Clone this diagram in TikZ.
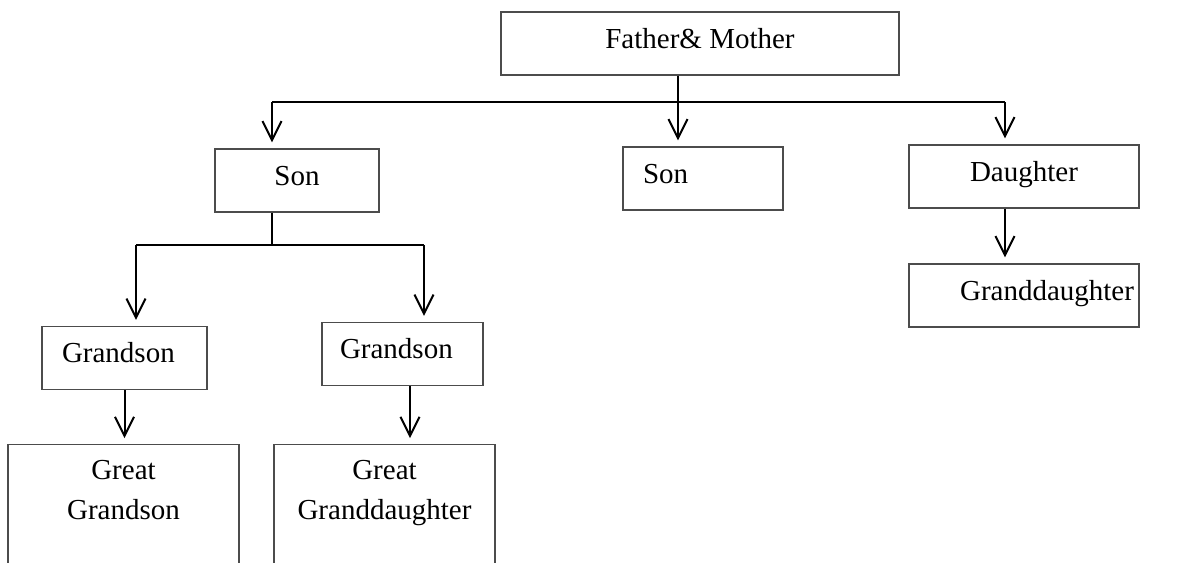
\documentclass[tikz,border=0pt]{standalone}
\usepackage{fontspec}
\setmainfont{Liberation Serif}
\usetikzlibrary{arrows.meta}
\newcommand{\kinfont}{\fontsize{14.5}{20}\selectfont}
\tikzset{
  kinbox/.style={draw=black!70,line width=0.7pt,minimum height=31.5pt,inner sep=0pt,
    align=center,font=\kinfont},
  member/.style={kinbox,text height=9pt,text depth=4.5pt},
  heir/.style={kinbox,anchor=north,inner ysep=8pt,text depth=60pt},
  descent/.style={-{Straight Barb[length=9.5pt,width=9.5pt]},line width=1pt,shorten >=3pt},
  branch/.style={line width=1pt}
}
\begin{document}
\begin{tikzpicture}[x=0.5pt,y=-0.5pt]
  \useasboundingbox (0,0) rectangle (1191,563);
  \node[member,minimum width=199pt] (fm) at (700,43.5) {Father\& Mother};
  \node[member,minimum width=82pt] (sonA) at (297,180.5) {Son};
  \node[member,text width=60pt,align=left,inner xsep=10pt] (sonB) at (703,178.5) {Son};
  \node[member,minimum width=115pt] (dau) at (1024,176.5) {Daughter};
  \node[member,text width=110pt,align=right,inner xsep=2.5pt] (gdau) at (1024,295.5) {Granddaughter};
  \node[member,text width=62.5pt,align=left,inner xsep=10pt] (gsA) at (124.5,358) {Grandson};
  \node[member,text width=62.5pt,align=left,inner xsep=9pt] (gsB) at (402.5,354) {Grandson};
  \node[heir,minimum width=115.5pt] (ggs) at (123.5,444) {Great\\Grandson};
  \node[heir,minimum width=110.5pt] (ggd) at (384.5,444) {Great\\Granddaughter};

  \coordinate (jct) at (678,102);
  \coordinate (barL) at (272,102);
  \coordinate (barR) at (1005,102);
  \coordinate (sjct) at (272,245);
  \coordinate (sbarL) at (136,245);
  \coordinate (sbarR) at (424,245);

  \draw[branch] (barL) -- (barR);
  \draw[descent] (fm.south -| jct) -- (jct |- sonB.north);
  \draw[descent] (barL) -- (barL |- sonA.north);
  \draw[descent] (barR) -- (barR |- dau.north);
  \draw[branch] (sjct |- sonA.south) -- (sjct);
  \draw[branch] (sbarL) -- (sbarR);
  \draw[descent] (sbarL) -- (sbarL |- gsA.north);
  \draw[descent] (sbarR) -- (sbarR |- gsB.north);
  \draw[descent] (gsA.south) -- (gsA.south |- ggs.north);
  \draw[descent] ([xshift=3.75pt]gsB.south) -- ([xshift=3.75pt]gsB.south |- ggd.north);
  \draw[descent] (barR |- dau.south) -- (barR |- gdau.north);
\end{tikzpicture}
\end{document}
